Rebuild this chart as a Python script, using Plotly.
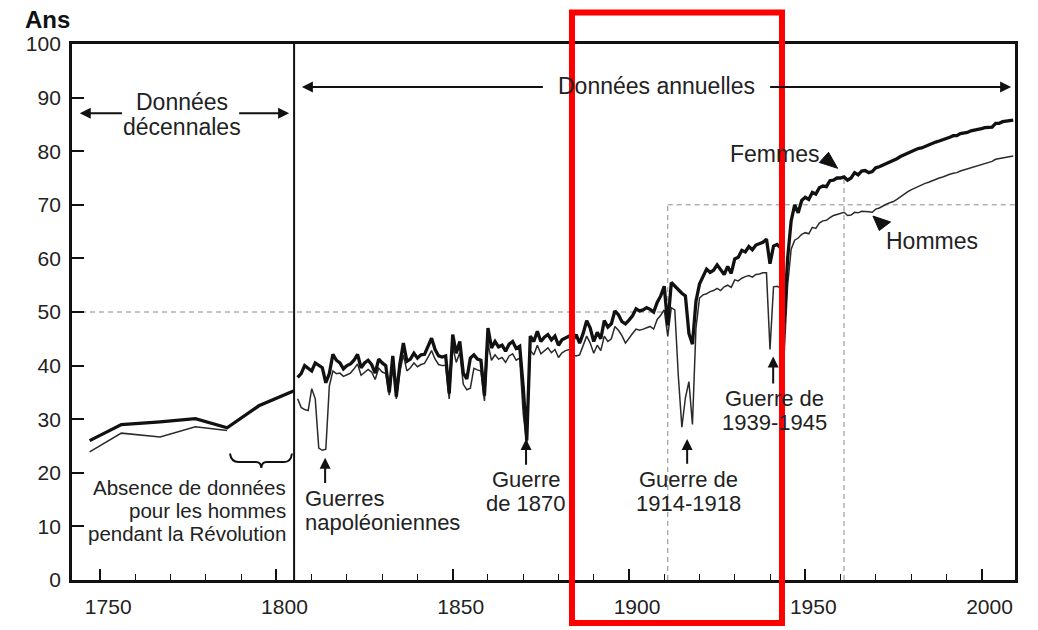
import plotly.graph_objects as go

FONT = "Liberation Sans, Arial, Helvetica, sans-serif"
INK = "#111111"
TXT = "#222222"

# Decennial estimates (18th century)
dec_years_f = [1747, 1756, 1767, 1777, 1786, 1795, 1805]
dec_femmes = [26.0, 29.0, 29.5, 30.1, 28.4, 32.5, 35.3]
dec_years_h = [1747, 1756, 1767, 1777, 1786]
dec_hommes = [23.9, 27.4, 26.7, 28.6, 27.9]

# Annual series, 1806-2009
annual_years = list(range(1806, 2010))
femmes = [
    37.8, 38.5, 40.0, 39.5,
    39.0, 40.5, 40.0, 39.6, 36.8, 38.5, 42.1, 41.0, 40.5, 39.4,
    40.0, 40.3, 41.0, 42.1, 39.6, 40.5, 41.0, 40.2, 38.6, 41.2,
    40.5, 40.0, 35.0, 41.8, 34.2, 40.3, 44.2, 40.8, 41.2, 42.3,
    41.4, 42.0, 42.1, 43.6, 45.1, 43.0, 41.8, 41.6, 41.8, 34.8,
    45.8, 42.3, 44.5, 38.6, 37.5, 41.4, 42.0, 41.2, 41.0, 34.4,
    47.0, 43.3, 44.5, 43.5, 43.8, 42.7, 44.0, 44.5, 43.2, 43.6,
    36.0, 26.0, 45.5, 44.5, 46.4, 44.5, 45.3, 45.8, 44.8, 45.5,
    43.8, 44.8, 45.1, 45.5, 44.6, 45.8, 44.2, 46.0, 48.4, 47.0,
    44.5, 46.2, 45.0, 48.4, 47.2, 47.8, 50.2, 49.5, 48.2, 47.8,
    48.5, 49.3, 50.6, 50.2, 50.4, 50.8, 50.5, 50.0, 51.8, 53.0,
    54.8, 47.5, 55.5, 54.8, 54.2, 53.5, 53.0, 46.0, 44.0, 52.0,
    55.2, 56.6, 58.0, 57.4, 57.8, 58.8, 58.0, 57.0, 58.5, 57.2,
    59.9, 60.2, 61.5, 61.2, 62.2, 61.6, 62.5, 62.8, 63.0, 63.6,
    59.0, 62.3, 62.6, 62.0, 48.0, 60.0, 67.0, 70.0, 68.5, 70.8,
    71.4, 71.0, 72.3, 72.0, 73.2, 73.5, 73.4, 74.5, 74.6, 75.0,
    75.0, 75.2, 74.6, 75.0, 76.0, 75.6, 76.3, 76.4, 76.0, 76.2,
    76.9, 77.1, 77.4, 77.7, 78.0, 78.2, 78.6, 79.0, 79.3, 79.6,
    79.9, 80.2, 80.5, 80.6, 80.9, 81.1, 81.4, 81.7, 81.9, 82.1,
    82.4, 82.6, 82.9, 82.9, 83.3, 83.4, 83.5, 83.8, 83.9, 84.0,
    84.2, 84.4, 84.5, 84.5, 85.2, 85.2, 85.5, 85.6, 85.6, 85.8,
]
hommes = [
    33.8, 32.2, 31.8, 31.6,
    35.7, 33.8, 24.6, 24.2, 24.4, 36.2, 39.0, 38.5, 38.6, 38.0,
    38.3, 38.6, 39.4, 40.3, 38.2, 38.8, 39.3, 38.8, 37.4, 39.5,
    38.8, 38.5, 34.5, 40.0, 33.8, 38.8, 42.0, 39.0, 39.6, 40.5,
    39.8, 40.2, 40.4, 41.6, 42.8, 41.2, 40.2, 40.0, 40.0, 33.8,
    43.5, 40.6, 42.4, 36.5, 35.5, 35.8, 39.5, 39.2, 39.0, 33.4,
    44.0, 41.0, 42.0, 41.2, 41.5, 40.6, 41.8, 42.2, 41.0, 41.4,
    31.0, 25.5, 42.8, 42.0, 43.8, 42.2, 42.8, 43.3, 42.4, 43.0,
    41.5, 42.4, 42.8, 43.0, 42.0, 41.8, 42.0, 43.6, 45.5, 44.2,
    42.3, 43.8, 42.8, 45.5, 44.5, 45.0, 47.3, 46.6, 45.6, 44.2,
    45.2, 46.0, 46.8, 46.6, 46.8, 47.0, 47.3, 46.8, 48.6, 49.4,
    50.4, 45.5, 50.8, 50.4, 38.0, 28.5, 34.0, 37.0, 29.0, 47.0,
    52.6, 53.2, 53.4, 53.8, 54.0, 54.4, 54.0, 54.7, 55.0, 54.6,
    56.0, 55.8, 56.3, 56.6, 56.8, 56.5, 57.0, 57.1, 57.3, 57.3,
    43.0, 54.7, 54.8, 54.5, 42.0, 55.0, 61.7, 63.4, 63.8, 64.5,
    64.8, 64.6, 65.8, 65.6, 66.6, 67.0, 67.1, 67.6, 68.0, 68.2,
    68.4, 68.6, 68.0, 68.1, 68.6, 68.5, 68.8, 68.8, 68.7, 68.6,
    69.2, 69.4, 69.8, 70.1, 70.4, 70.6, 71.0, 71.5, 72.0, 72.4,
    72.8, 73.1, 73.5, 73.7, 74.0, 74.2, 74.5, 74.8, 75.0, 75.2,
    75.5, 75.7, 75.9, 76.0, 76.3, 76.5, 76.7, 77.0, 77.1, 77.3,
    77.6, 77.8, 78.0, 78.1, 78.5, 78.6, 78.8, 78.9, 79.0, 79.1,
]

x_ticks = [1750, 1800, 1850, 1900, 1950, 2000]
x_tick_labels = ["1750", "1800", "1850", "1900", "1950", "2000"]
y_ticks = [0, 10, 20, 30, 40, 50, 60, 70, 80, 90, 100]
y_tick_labels = [str(v) for v in y_ticks]

X_MIN, X_MAX = 1742, 2009.5
ANNUAL_START = 1805
YEAR_A, YEAR_B = 1911, 1961

fig = go.Figure()

thin = dict(color="#2a2a2a", width=1.5)
thick = dict(color=INK, width=3.3)

fig.add_trace(go.Scatter(x=dec_years_h, y=dec_hommes, mode="lines", line=thin,
                         name="Hommes (décennal)", hoverinfo="x+y"))
fig.add_trace(go.Scatter(x=dec_years_f, y=dec_femmes, mode="lines", line=thick,
                         name="Femmes (décennal)", hoverinfo="x+y"))
fig.add_trace(go.Scatter(x=annual_years, y=hommes, mode="lines", line=thin,
                         name="Hommes", hoverinfo="x+y"))
fig.add_trace(go.Scatter(x=annual_years, y=femmes, mode="lines", line=thick,
                         name="Femmes", hoverinfo="x+y"))

dash = dict(color="#8a8a8a", width=1, dash="5px,4px")
f_at_b = femmes[annual_years.index(YEAR_B)]
shapes = [
    dict(type="line", xref="x", yref="y", x0=X_MIN, x1=YEAR_A, y0=50, y1=50, line=dash, layer="below"),
    dict(type="line", xref="x", yref="y", x0=YEAR_A, x1=YEAR_A, y0=0, y1=70, line=dash, layer="below"),
    dict(type="line", xref="x", yref="y", x0=YEAR_A, x1=X_MAX, y0=70, y1=70, line=dash, layer="below"),
    dict(type="line", xref="x", yref="y", x0=YEAR_B, x1=YEAR_B, y0=0, y1=f_at_b, line=dash, layer="below"),
    # separation between decennial and annual data
    dict(type="line", xref="x", yref="y", x0=ANNUAL_START, x1=ANNUAL_START, y0=0, y1=100,
         line=dict(color=INK, width=2)),
    # brace under the missing male data
    dict(type="path", xref="x", yref="y",
         path="M 1786.8,23.6 Q 1787.2,22.0 1789.2,22.0 L 1794.2,22.0 Q 1795.6,22.0 1795.7,20.9 "
              "Q 1795.8,22.0 1797.2,22.0 L 1802.2,22.0 Q 1804.1,22.0 1804.4,23.6",
         line=dict(color=INK, width=2)),
    # pointer heads for the series labels
    dict(type="path", xref="x", yref="y",
         path="M 1954.0,77.9 L 1956.6,79.8 L 1959.2,76.8 Z",
         fillcolor=INK, line=dict(color=INK, width=1)),
    dict(type="path", xref="x", yref="y",
         path="M 1969.2,67.9 L 1971.0,65.2 L 1974.2,66.8 Z",
         fillcolor=INK, line=dict(color=INK, width=1)),
    # highlighted period
    dict(type="rect", xref="paper", yref="paper", x0=0.5302, x1=0.7529, y0=-0.080, y1=1.059,
         line=dict(color="#ff0000", width=6), fillcolor="rgba(0,0,0,0)", layer="above"),
]

ann = []


def label(text, x, y, anchor="center", size=22):
    ann.append(dict(x=x, y=y, xref="x", yref="y", text=text, showarrow=False,
                    xanchor=anchor, yanchor="middle",
                    font=dict(family=FONT, size=size, color=TXT)))


def arrow(x_head, y_head, x_tail, y_tail):
    ann.append(dict(x=x_head, y=y_head, ax=x_tail, ay=y_tail, xref="x", yref="y",
                    axref="x", ayref="y", text="", showarrow=True,
                    arrowhead=2, arrowsize=1.1, arrowwidth=2, arrowcolor=INK))


label("Données", 1773.2, 89.2, size=23)
label("décennales", 1773.2, 84.6, size=23)
arrow(1744.2, 87.1, 1756.6, 87.1)
arrow(1803.6, 87.1, 1789.0, 87.1)

label("Données annuelles", 1907.8, 92.2, size=23)
arrow(1807.2, 92.0, 1876.0, 92.0)
arrow(2008.4, 92.0, 1939.6, 92.0)

label("Femmes", 1941.2, 79.4, size=23)
label("Hommes", 1986.0, 63.3, size=23)

label("Guerres", 1807.4, 15.2, anchor="left")
label("napoléoniennes", 1807.4, 10.8, anchor="left")
arrow(1813.8, 22.8, 1813.8, 17.8)

label("Guerre", 1870.8, 18.7)
label("de 1870", 1870.8, 14.3)
arrow(1870.8, 26.3, 1870.8, 21.2)

label("Guerre de", 1916.8, 18.7)
label("1914-1918", 1916.8, 14.3)
arrow(1916.5, 26.3, 1916.5, 21.4)

label("Guerre de", 1941.2, 33.8)
label("1939-1945", 1941.4, 29.4)
arrow(1940.9, 41.7, 1940.9, 36.4)

label("Absence de données", 1803.3, 17.2, anchor="right", size=20.5)
label("pour les hommes", 1803.3, 13.0, anchor="right", size=20.5)
label("pendant la Révolution", 1803.3, 8.7, anchor="right", size=20.5)

ann.append(dict(x=-0.0265, y=1.046, xref="paper", yref="paper", text="<b>Ans</b>",
                showarrow=False, xanchor="center", yanchor="middle",
                font=dict(family=FONT, size=24, color=INK)))

fig.update_layout(
    width=1038, height=630,
    margin=dict(l=72, r=23, t=44, b=45),
    paper_bgcolor="white", plot_bgcolor="white",
    showlegend=False,
    shapes=shapes, annotations=ann,
    font=dict(family=FONT, color=TXT),
)
fig.update_xaxes(
    range=[X_MIN, X_MAX], showgrid=False, zeroline=False,
    showline=True, linecolor=INK, linewidth=2.8, mirror=True,
    tickmode="array", tickvals=x_ticks, ticktext=x_tick_labels,
    ticks="inside", ticklen=11, tickwidth=2, tickcolor=INK,
    tickfont=dict(family=FONT, size=21, color=TXT),
    ticklabelshift=8, ticklabelstandoff=6,
    minor=dict(tickmode="linear", tick0=1750, dtick=10, ticks="inside",
               ticklen=6, tickwidth=1.4, tickcolor=INK),
)
fig.update_yaxes(
    range=[0, 100], showgrid=False, zeroline=False,
    showline=True, linecolor=INK, linewidth=2.8, mirror=True,
    tickmode="array", tickvals=y_ticks, ticktext=y_tick_labels,
    ticks="inside", ticklen=12, tickwidth=2, tickcolor=INK,
    tickfont=dict(family=FONT, size=21, color=TXT),
    ticklabelstandoff=4,
)

fig.write_html("out.html")
